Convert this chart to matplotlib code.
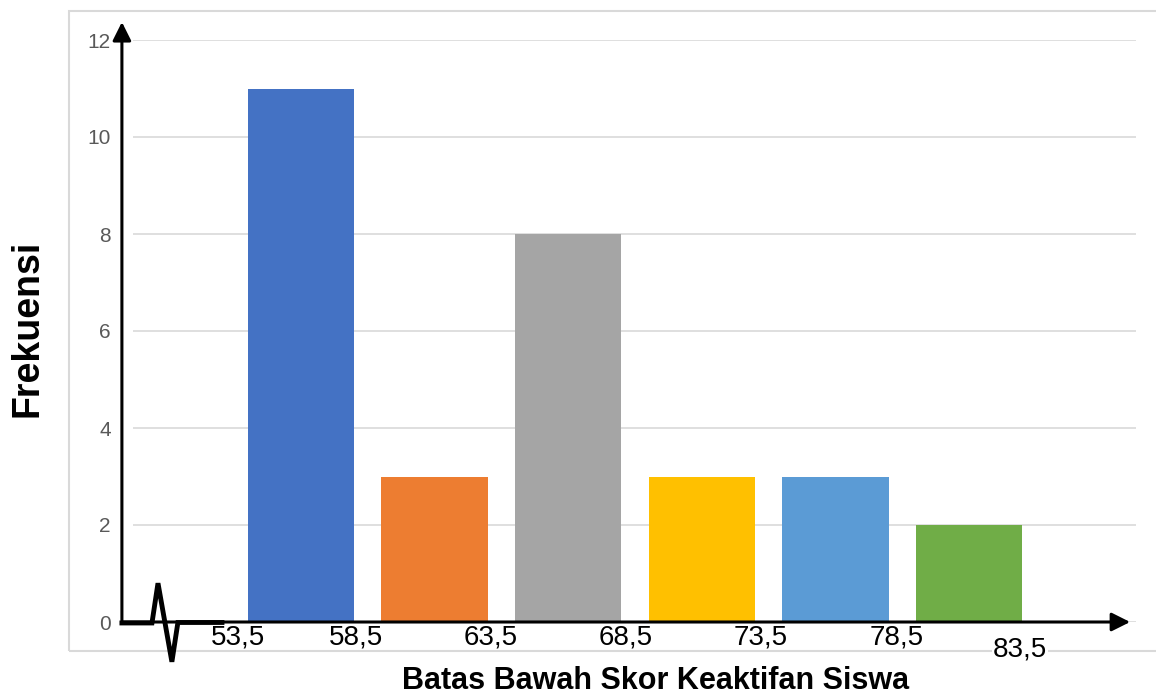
import numpy as np
import matplotlib.pyplot as plt
from matplotlib.patches import Rectangle

# frekuensi tiap kelas interval
freq = [11, 3, 8, 3, 3, 2]
bar_colors = ['#4472C4', '#ED7D31', '#A5A5A5', '#FFC000', '#5B9BD5', '#70AD47']
batas_labels = ['53,5', '58,5', '63,5', '68,5', '73,5', '78,5', '83,5']
y_ticks = [0, 2, 4, 6, 8, 10, 12]

W, H = 1156, 696
fig = plt.figure(figsize=(W / 100, H / 100), dpi=100)
ax = fig.add_axes([133 / W, 74 / H, (1136 - 133) / W, 582 / H])

x = np.arange(len(freq))
ax.bar(x, freq, width=0.795, color=bar_colors, zorder=3)

ax.set_xlim(-1.257, 6.249)
ax.set_ylim(0, 12)
ax.set_yticks(y_ticks)
ax.set_yticklabels([str(t) for t in y_ticks], fontsize=15, color='#595959',
                   family='Liberation Sans')
ax.tick_params(axis='y', length=0, pad=16)
ax.set_xticks([])
ax.grid(axis='y', color='#d9d9d9', lw=1.2, zorder=0)
for s in ax.spines.values():
    s.set_visible(False)

# batas kelas di bawah sumbu x
label_dx = [4, -12, -11, -9, -8, -6, -16]
label_dy = [-23, -23, -23, -23, -23, -23, -35]
for i, lab in enumerate(batas_labels):
    t = ax.annotate(lab, xy=(i - 0.5, 0), xytext=(label_dx[i], label_dy[i]),
                    textcoords='offset pixels', ha='center', va='baseline',
                    fontsize=20, family='Liberation Sans', color='black',
                    annotation_clip=False, zorder=4)
    if i == len(batas_labels) - 1:
        # label terakhir menutupi garis bingkai
        t.set_bbox(dict(fc='white', ec='none', pad=0.5))

# sumbu dengan panah
x0 = -1.34
arrow = dict(arrowstyle='-|>', lw=2.2, color='black', mutation_scale=28,
             shrinkA=0, shrinkB=0)
ax.annotate('', xy=(x0, 12.37), xytext=(x0, 0), arrowprops=arrow,
            annotation_clip=False, zorder=5)
ax.annotate('', xy=(6.205, 0), xytext=(x0, 0), arrowprops=arrow,
            annotation_clip=False, zorder=5)

# tanda patahan sumbu x
zx = [-1.34, -1.115, -1.07, -0.966, -0.921, -0.591]
zy = [-0.02, -0.02, 0.80, -0.82, -0.01, -0.01]
ax.plot(zx, zy, color='black', lw=3.5, solid_joinstyle='miter',
        clip_on=False, zorder=6)

fig.text(656 / W, 1 - 689 / H, 'Batas Bawah Skor Keaktifan Siswa',
         ha='center', va='baseline', fontsize=22, fontweight='bold',
         family='Liberation Sans')
fig.text(28 / W, 1 - 328 / H, 'Frekuensi', rotation=90, ha='center',
         va='center', fontsize=27, fontweight='bold', family='Liberation Sans')

border = Rectangle((69 / W, 1 - 651 / H), 1.0, (651 - 11) / H,
                   transform=fig.transFigure, fill=False,
                   edgecolor='#d9d9d9', lw=1.5, zorder=-1)
fig.patches.append(border)

plt.savefig('out.png', dpi=100)
